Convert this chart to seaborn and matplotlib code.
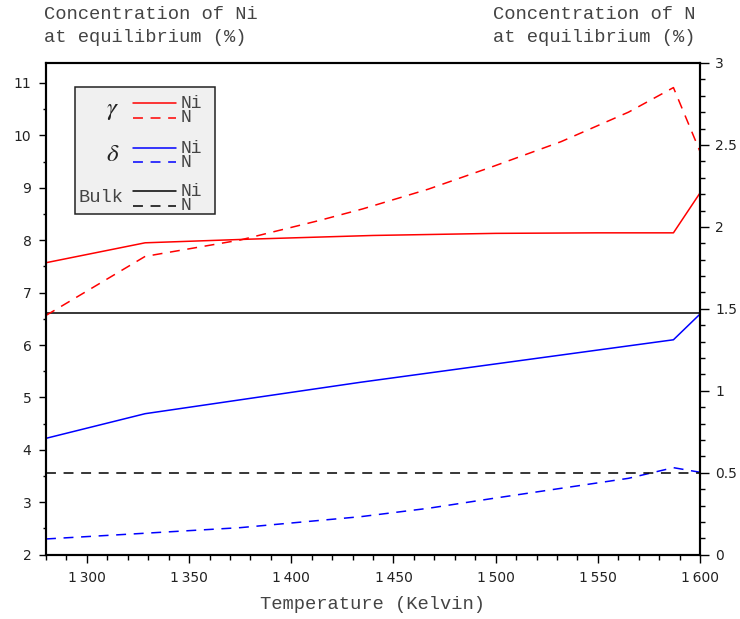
import matplotlib
matplotlib.use("Agg")
import matplotlib.pyplot as plt
import seaborn as sns
from matplotlib.ticker import MultipleLocator, FuncFormatter
from matplotlib.patches import Rectangle
from matplotlib.lines import Line2D

# --- data ---
temp_gamma_ni = [1280, 1328.5, 1380, 1440, 1500, 1550, 1587, 1600]
gamma_ni = [7.57, 7.95, 8.02, 8.09, 8.13, 8.14, 8.14, 8.90]

temp_gamma_n = [1280, 1328.5, 1375, 1414, 1435, 1467, 1499, 1532, 1565, 1587, 1600]
gamma_n = [1.46, 1.82, 1.92, 2.04, 2.11, 2.23, 2.37, 2.52, 2.70, 2.85, 2.46]

temp_delta_ni = [1280, 1328.5, 1434, 1587, 1600]
delta_ni = [4.22, 4.69, 5.29, 6.10, 6.59]

temp_delta_n = [1280, 1328.5, 1375, 1434, 1467, 1499, 1532, 1565, 1587, 1600]
delta_n = [0.096, 0.131, 0.165, 0.232, 0.283, 0.344, 0.405, 0.466, 0.531, 0.503]

bulk_ni = 6.62
bulk_n = 0.5

W, H = 740, 619
MONO = "Liberation Mono"
TXT = "#444444"
RED = "#ff0000"
BLUE = "#0000ff"
DASH = (0, (6.5, 5))

sns.set_theme(style="white")
plt.rcParams.update({
    "font.family": ["DejaVu Sans"],
    "font.size": 10,
    "mathtext.fontset": "stix",
    "axes.edgecolor": "black",
    "axes.linewidth": 1.5,
    "xtick.color": "black",
    "ytick.color": "black",
    "xtick.labelcolor": "#222222",
    "ytick.labelcolor": "#222222",
})

fig = plt.figure(figsize=(W / 100, H / 100), dpi=100)
ax = fig.add_axes([46 / W, 1 - 554.7 / H, (700 - 46) / W, (554.7 - 63) / H])
ax2 = ax.twinx()

# Ni concentrations on the left axis
sns.lineplot(x=temp_gamma_ni, y=gamma_ni, ax=ax, color=RED, linewidth=1.1)
sns.lineplot(x=temp_delta_ni, y=delta_ni, ax=ax, color=BLUE, linewidth=1.1)
ax.axhline(bulk_ni, color="black", linewidth=1.1)

# N concentrations on the right axis
sns.lineplot(x=temp_gamma_n, y=gamma_n, ax=ax2, color=RED, linewidth=1.1, linestyle=DASH)
sns.lineplot(x=temp_delta_n, y=delta_n, ax=ax2, color=BLUE, linewidth=1.1, linestyle=DASH)
ax2.axhline(bulk_n, color="black", linewidth=1.1, linestyle=DASH)

ax.set_xlim(1280, 1600)
ax.set_ylim(2, 11.38)
ax2.set_ylim(0, 3)

ax.xaxis.set_major_locator(MultipleLocator(50))
ax.xaxis.set_minor_locator(MultipleLocator(10))
ax.xaxis.set_major_formatter(FuncFormatter(lambda v, p: f"{int(v):,}".replace(",", "\u2009")))
ax.yaxis.set_major_locator(MultipleLocator(1))
ax.yaxis.set_minor_locator(MultipleLocator(0.5))
ax2.yaxis.set_major_locator(MultipleLocator(0.5))
ax2.yaxis.set_minor_locator(MultipleLocator(0.1))
ax2.yaxis.set_major_formatter(FuncFormatter(lambda v, p: f"{v:g}"))

ax.tick_params(axis="x", which="major", direction="out", length=6, width=1, bottom=True, top=False,
               labelsize=10, pad=6)
ax.tick_params(axis="x", which="minor", direction="out", length=3.5, width=1, bottom=True, top=False)
ax.tick_params(axis="y", which="major", direction="out", length=5, width=1, left=True, right=False,
               labelsize=10, pad=5.5)
ax.tick_params(axis="y", which="minor", direction="out", length=2.5, width=1, left=True, right=False)
ax2.tick_params(axis="y", which="major", direction="out", length=6.5, width=1, right=True,
                labelsize=10, pad=4.5)
ax2.tick_params(axis="y", which="minor", direction="out", length=3.4, width=1, right=True)
ax.set_ylabel("")
ax2.set_ylabel("")
ax.set_xlabel("Temperature (Kelvin)", fontfamily=MONO, fontsize=13.5, color=TXT, labelpad=8)

fig.text(44 / W, 1 - 6 / H, "Concentration of Ni\nat equilibrium (%)", ha="left", va="top",
         fontfamily=MONO, fontsize=13.5, color=TXT, linespacing=1.5)
fig.text(493 / W, 1 - 6 / H, "Concentration of N\nat equilibrium (%)", ha="left", va="top",
         fontfamily=MONO, fontsize=13.5, color=TXT, linespacing=1.5)

# --- hand-made legend box ---
def fx(x):
    return x / W

def fy(y):
    return 1 - y / H

box = Rectangle((fx(75), fy(214)), fx(215) - fx(75), fy(87) - fy(214), transform=fig.transFigure,
                facecolor="#f0f0f0", edgecolor="#222222", linewidth=1.1, zorder=5)
fig.patches.append(box)

entries = [
    (r"$\gamma$", RED, 103.3, 117.7, True),
    (r"$\delta$", BLUE, 148.3, 162.3, True),
    ("Bulk", "black", 191, 205.7, False),
]
for name, col, y_ni, y_n, is_math in entries:
    fig.lines.append(Line2D([fx(133), fx(176)], [fy(y_ni)] * 2, transform=fig.transFigure,
                            color=col, linewidth=1.1, zorder=6))
    fig.lines.append(Line2D([fx(133), fx(176)], [fy(y_n)] * 2, transform=fig.transFigure,
                            color=col, linewidth=1.1, linestyle=DASH, zorder=6))
    fig.text(fx(181), fy((y_ni + y_n) / 2), "Ni\nN", ha="left", va="center", fontfamily=MONO,
             fontsize=13, color=TXT, linespacing=0.78, zorder=6)
    if is_math:
        fig.text(fx(119), fy((y_ni + y_n) / 2 - 1), name, ha="right", va="center", fontsize=18,
                 color="#222222", zorder=6)
    else:
        fig.text(fx(124), fy(y_ni + 7), name, ha="right", va="center", fontfamily=MONO, fontsize=13.5,
                 color=TXT, zorder=6)

fig.savefig("out.png", dpi=100)
